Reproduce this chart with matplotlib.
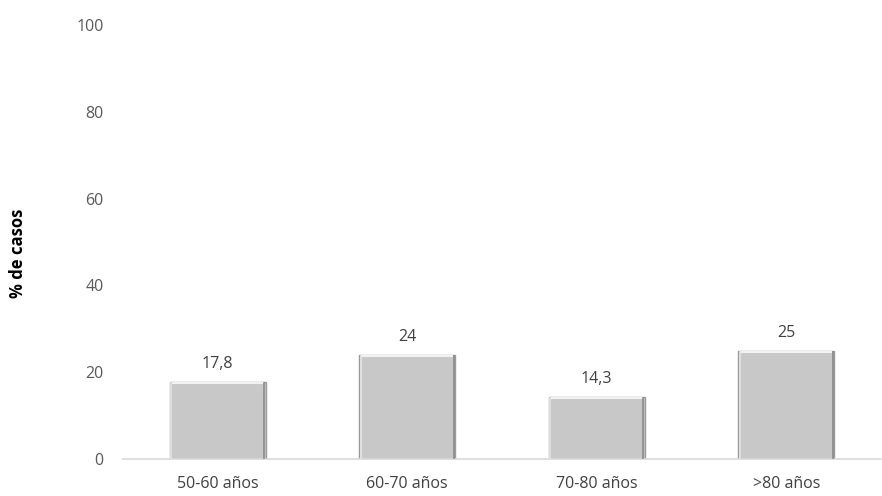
import matplotlib
matplotlib.use("Agg")
import matplotlib.pyplot as plt
import numpy as np

categories = ["50-60 años", "60-70 años", "70-80 años", ">80 años"]
values = [17.8, 24, 14.3, 25]
value_labels = ["17,8", "24", "14,3", "25"]
yticks = [0, 20, 40, 60, 80, 100]

plt.rcParams['font.family'] = ['Open Sans', 'DejaVu Sans']

fig = plt.figure(figsize=(8.82, 4.96), dpi=100)
ax = fig.add_axes([123/882, 1 - 459/496, (881-123)/882, (459-25)/496])

x = np.arange(len(categories))
bars = ax.bar(x, values, width=0.506, color='#c8c8c8', edgecolor='#9a9a9a', linewidth=1.0, zorder=2)
# bevel highlight
for b in bars:
    bx, by, bw, bh = b.get_x(), b.get_y(), b.get_width(), b.get_height()
    ax.plot([bx + 0.01, bx + bw - 0.01], [bh - 0.25, bh - 0.25], color='#f2f2f2', lw=1.5, zorder=3, solid_capstyle='butt')
    ax.plot([bx + 0.008, bx + 0.008], [0.2, bh - 0.3], color='#e6e6e6', lw=1.2, zorder=3)
    ax.plot([bx + bw - 0.008, bx + bw - 0.008], [0.2, bh - 0.3], color='#8a8a8a', lw=1.2, zorder=3)

for xi, v, lab in zip(x, values, value_labels):
    ax.annotate(lab, (xi, v), xytext=(0, 7), textcoords='offset points',
                ha='center', va='bottom', fontsize=11.5, color='#404040')

ax.set_xlim(-0.5, 3.5)
ax.set_ylim(0, 100)
ax.set_yticks(yticks)
ax.set_xticks(x)
ax.set_xticklabels(categories, fontsize=11.5, color='#404040')
ax.tick_params(axis='y', length=0, pad=14, labelsize=11.5, labelcolor='#595959')
ax.tick_params(axis='x', length=0, pad=12)
for s in ['top', 'right', 'left']:
    ax.spines[s].set_visible(False)
ax.spines['bottom'].set_color('#d9d9d9')
ax.spines['bottom'].set_linewidth(1.2)

fig.text(18/882, 1 - 253/496, "% de casos", rotation=90, ha='center', va='center',
         fontsize=12, fontweight='bold', color='#000000')

fig.savefig("out.png", dpi=100, facecolor='white')
